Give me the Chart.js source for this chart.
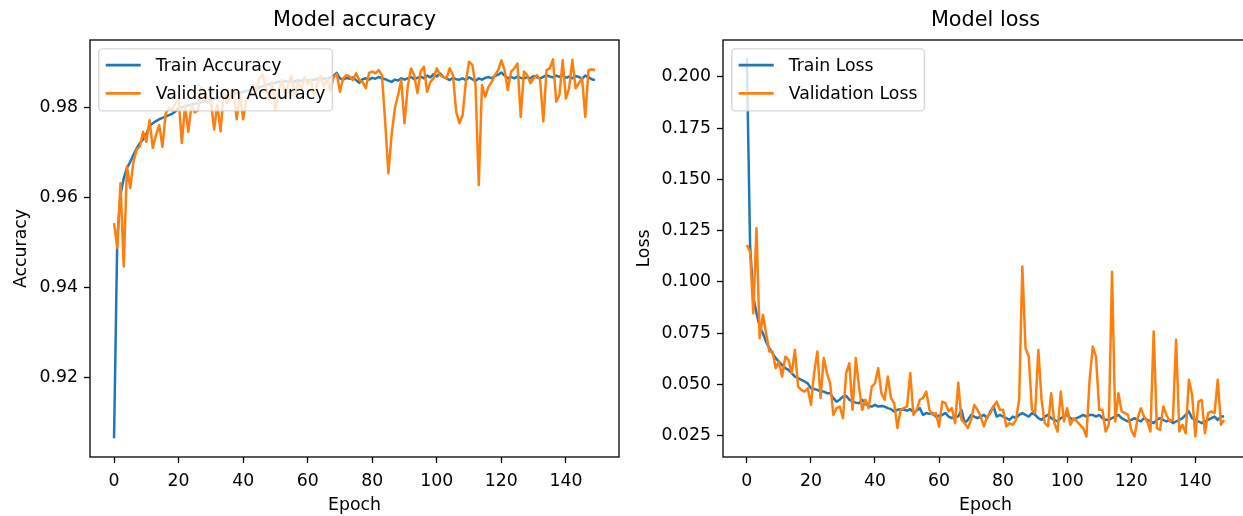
<!DOCTYPE html>
<html><head><meta charset="utf-8">
<script src="https://cdn.jsdelivr.net/npm/chart.js@4.4.0/dist/chart.umd.min.js"></script>
<style>
html,body{margin:0;padding:0;background:#fff;overflow:hidden;width:1243px;height:516px;}
#wrap{position:relative;width:1243px;height:516px;overflow:hidden;background:#fff;}
#c1{position:absolute;left:0;top:0;}
#c2{position:absolute;left:630px;top:0;}
</style></head><body>
<div id="wrap"><canvas id="c1" width="628" height="516"></canvas><canvas id="c2" width="640" height="516"></canvas></div>
<script>
// ---- data ----
const trainAcc = [0.9066,0.9510,0.9607,0.9644,0.9667,0.9680,0.9696,0.9710,0.9722,0.9730,
 0.9742,0.9760,0.9766,0.9771,0.9775,0.9778,0.9781,0.9784,0.9787,0.9792,
 0.9800,0.9801,0.9804,0.9806,0.9808,0.9809,0.9812,0.9813,0.9815,0.9817,
 0.9819,0.9820,0.9823,0.9824,0.9826,0.9828,0.9829,0.9831,0.9833,0.9834,
 0.9836,0.9837,0.9840,0.9842,0.9843,0.9846,0.9848,0.9850,0.9853,0.9855,
 0.9856,0.9859,0.9857,0.9860,0.9858,0.9861,0.9859,0.9862,0.9860,0.9864,
 0.9861,0.9863,0.9862,0.9865,0.9862,0.9866,0.9864,0.9868,0.9872,0.9878,
 0.9866,0.9863,0.9867,0.9865,0.9868,0.9862,0.9856,0.9864,0.9866,0.9863,
 0.9867,0.9865,0.9869,0.9866,0.9864,0.9861,0.9858,0.9863,0.9861,0.9866,
 0.9863,0.9866,0.9869,0.9864,0.9867,0.9870,0.9866,0.9872,0.9868,0.9875,
 0.9870,0.9877,0.9869,0.9866,0.9862,0.9867,0.9864,0.9863,0.9866,0.9862,
 0.9868,0.9864,0.9860,0.9866,0.9863,0.9867,0.9869,0.9866,0.9871,0.9874,
 0.9879,0.9872,0.9866,0.9869,0.9866,0.9870,0.9867,0.9865,0.9869,0.9866,
 0.9871,0.9868,0.9866,0.9869,0.9873,0.9870,0.9868,0.9872,0.9869,0.9873,
 0.9867,0.9870,0.9866,0.9871,0.9869,0.9865,0.9872,0.9868,0.9864,0.9862];

const valAcc = [0.9544,0.9489,0.9633,0.9448,0.9670,0.9622,0.9680,0.9707,0.9715,0.9747,
 0.9725,0.9773,0.9711,0.9740,0.9762,0.9714,0.9788,0.9800,0.9795,0.9810,
 0.9822,0.9722,0.9805,0.9747,0.9807,0.9790,0.9795,0.9845,0.9838,0.9812,
 0.9815,0.9752,0.9808,0.9748,0.9835,0.9810,0.9825,0.9842,0.9775,0.9830,
 0.9775,0.9818,0.9828,0.9852,0.9838,0.9865,0.9875,0.9845,0.9818,0.9858,
 0.9796,0.9838,0.9862,0.9832,0.9855,0.9872,0.9826,0.9858,0.9842,0.9868,
 0.9852,0.9862,0.9828,0.9856,0.9872,0.9848,0.9865,0.9838,0.9868,0.9876,
 0.9836,0.9866,0.9873,0.9870,0.9862,0.9877,0.9862,0.9858,0.9844,0.9878,
 0.9881,0.9877,0.9884,0.9873,0.9770,0.9655,0.9740,0.9800,0.9829,0.9862,
 0.9766,0.9848,0.9888,0.9873,0.9833,0.9881,0.9892,0.9836,0.9858,0.9866,
 0.9888,0.9873,0.9869,0.9866,0.9888,0.9873,0.9792,0.9766,0.9784,0.9858,
 0.9903,0.9896,0.9851,0.9629,0.9851,0.9825,0.9847,0.9858,0.9873,0.9884,
 0.9906,0.9884,0.9840,0.9881,0.9888,0.9899,0.9780,0.9881,0.9873,0.9855,
 0.9866,0.9873,0.9862,0.9770,0.9884,0.9888,0.9908,0.9814,0.9829,0.9906,
 0.9821,0.9844,0.9907,0.9844,0.9855,0.9866,0.9780,0.9884,0.9886,0.9884];

const trainLoss = [0.2090,0.1180,0.0929,0.0848,0.0783,0.0750,0.0709,0.0677,0.0653,0.0629,
 0.0612,0.0596,0.0580,0.0572,0.0556,0.0539,0.0531,0.0523,0.0515,0.0506,
 0.0482,0.0478,0.0474,0.0466,0.0466,0.0458,0.0458,0.0434,0.0417,0.0426,
 0.0442,0.0445,0.0426,0.0417,0.0412,0.0409,0.0426,0.0406,0.0396,0.0393,
 0.0401,0.0393,0.0396,0.0393,0.0385,0.0380,0.0369,0.0377,0.0380,0.0377,
 0.0373,0.0380,0.0364,0.0373,0.0385,0.0352,0.0361,0.0357,0.0361,0.0344,
 0.0348,0.0352,0.0361,0.0344,0.0336,0.0344,0.0344,0.0377,0.0312,0.0328,
 0.0352,0.0344,0.0336,0.0344,0.0352,0.0336,0.0369,0.0393,0.0344,0.0352,
 0.0344,0.0336,0.0328,0.0344,0.0336,0.0352,0.0361,0.0352,0.0344,0.0361,
 0.0352,0.0336,0.0328,0.0344,0.0352,0.0336,0.0328,0.0320,0.0336,0.0344,
 0.0352,0.0336,0.0328,0.0336,0.0344,0.0352,0.0344,0.0352,0.0352,0.0344,
 0.0352,0.0336,0.0328,0.0328,0.0336,0.0344,0.0352,0.0336,0.0328,0.0320,
 0.0328,0.0336,0.0328,0.0320,0.0336,0.0328,0.0320,0.0312,0.0328,0.0336,
 0.0328,0.0320,0.0328,0.0312,0.0320,0.0328,0.0336,0.0352,0.0369,0.0336,
 0.0328,0.0320,0.0312,0.0320,0.0328,0.0336,0.0344,0.0328,0.0344,0.0344];

const valLoss = [0.1180,0.1148,0.0848,0.1262,0.0726,0.0840,0.0750,0.0661,0.0661,0.0580,
 0.0612,0.0539,0.0636,0.0620,0.0556,0.0669,0.0490,0.0474,0.0466,0.0482,
 0.0401,0.0556,0.0661,0.0434,0.0629,0.0556,0.0506,0.0352,0.0385,0.0393,
 0.0336,0.0556,0.0604,0.0377,0.0629,0.0490,0.0377,0.0426,0.0385,0.0490,
 0.0506,0.0580,0.0458,0.0426,0.0539,0.0434,0.0409,0.0288,0.0377,0.0385,
 0.0393,0.0556,0.0352,0.0377,0.0426,0.0434,0.0466,0.0377,0.0352,0.0361,
 0.0295,0.0417,0.0409,0.0369,0.0385,0.0312,0.0509,0.0328,0.0312,0.0288,
 0.0328,0.0401,0.0377,0.0344,0.0296,0.0344,0.0361,0.0393,0.0417,0.0377,
 0.0377,0.0296,0.0312,0.0304,0.0328,0.0425,0.1075,0.0677,0.0636,0.0377,
 0.0361,0.0669,0.0425,0.0312,0.0296,0.0458,0.0312,0.0271,0.0466,0.0320,
 0.0385,0.0304,0.0336,0.0320,0.0304,0.0288,0.0247,0.0523,0.0685,0.0636,
 0.0377,0.0377,0.0271,0.0304,0.1050,0.0320,0.0458,0.0369,0.0361,0.0352,
 0.0279,0.0247,0.0336,0.0385,0.0344,0.0320,0.0271,0.0758,0.0288,0.0279,
 0.0393,0.0352,0.0320,0.0328,0.0718,0.0271,0.0304,0.0263,0.0523,0.0450,
 0.0247,0.0417,0.0425,0.0263,0.0361,0.0369,0.0361,0.0523,0.0304,0.0328];

const epochs = trainAcc.map((_, i) => i);
const xTickVals = [0, 20, 40, 60, 80, 100, 120, 140];
const accTickVals = [0.92, 0.94, 0.96, 0.98];
const lossTickVals = [0.025, 0.050, 0.075, 0.100, 0.125, 0.150, 0.175, 0.200];

// ---- styling ----
const FAM = '"DejaVu Sans", sans-serif';
const FS = 17.3;
const BLUE = '#1f77b4', ORANGE = '#ff7f0e';
Chart.defaults.font.family = FAM;
Chart.defaults.color = '#000';

const mplPlugin = {
  id: 'mpl',
  afterDatasetsDraw(chart) {
    const {ctx, chartArea: a} = chart;
    ctx.save();
    // spines
    ctx.strokeStyle = '#000';
    ctx.lineWidth = 1.3;
    ctx.strokeRect(a.left, a.top, a.right - a.left, a.bottom - a.top);
    // legend
    ctx.font = FS + 'px ' + FAM;
    const ds = chart.data.datasets;
    const tw = Math.max(...ds.map(d => ctx.measureText(d.label).width));
    const x0 = a.left + 8.7, y0 = a.top + 8.9;
    const w = 57 + tw + 7, h = 62, r = 3.5;
    ctx.beginPath();
    ctx.moveTo(x0 + r, y0);
    ctx.lineTo(x0 + w - r, y0); ctx.arcTo(x0 + w, y0, x0 + w, y0 + r, r);
    ctx.lineTo(x0 + w, y0 + h - r); ctx.arcTo(x0 + w, y0 + h, x0 + w - r, y0 + h, r);
    ctx.lineTo(x0 + r, y0 + h); ctx.arcTo(x0, y0 + h, x0, y0 + h - r, r);
    ctx.lineTo(x0, y0 + r); ctx.arcTo(x0, y0, x0 + r, y0, r);
    ctx.closePath();
    ctx.globalAlpha = 0.8;
    ctx.fillStyle = '#fff'; ctx.fill();
    ctx.strokeStyle = '#cccccc'; ctx.lineWidth = 1.4; ctx.stroke();
    ctx.globalAlpha = 1;
    ds.forEach((d, i) => {
      const cy = y0 + 16.2 + i * 28.3;
      ctx.strokeStyle = d.borderColor; ctx.lineWidth = 2.6; ctx.lineCap = 'butt';
      ctx.beginPath(); ctx.moveTo(x0 + 7, cy); ctx.lineTo(x0 + 42, cy); ctx.stroke();
      ctx.fillStyle = '#000'; ctx.textBaseline = 'middle'; ctx.textAlign = 'left';
      ctx.fillText(d.label, x0 + 57, cy + 1.5);
    });
    ctx.restore();
  }
};

function makeChart(id, cfg) {
  const pts = arr => arr.map((v, i) => ({x: epochs[i], y: v}));
  return new Chart(document.getElementById(id), {
    type: 'line',
    data: {
      datasets: [
        {label: cfg.names[0], data: pts(cfg.series[0]), borderColor: BLUE, borderWidth: 2.5,
         pointRadius: 0, tension: 0, fill: false, borderJoinStyle: 'round', order: 2},
        {label: cfg.names[1], data: pts(cfg.series[1]), borderColor: ORANGE, borderWidth: 2.5,
         pointRadius: 0, tension: 0, fill: false, borderJoinStyle: 'round', order: 1}
      ]
    },
    options: {
      responsive: false, animation: false, devicePixelRatio: 1,
      layout: {padding: {left: 0, right: cfg.padRight, top: 0, bottom: 0}},
      plugins: {
        legend: {display: false},
        tooltip: {enabled: false},
        title: {display: true, text: cfg.title, fullSize: false, color: '#000',
                font: {family: FAM, size: 20.8, weight: 'normal', lineHeight: 1.2},
                padding: {top: 8.5, bottom: 6.54}}
      },
      scales: {
        x: {
          type: 'linear', min: -7.45, max: 156.45,
          afterBuildTicks: ax => { ax.ticks = xTickVals.map(v => ({value: v})); },
          afterFit: ax => { ax.height = 59; },
          grid: {display: true, drawOnChartArea: false, drawTicks: true, tickLength: 6,
                 tickWidth: 1.3, tickColor: '#000'},
          border: {display: false},
          ticks: {color: '#000', font: {family: FAM, size: FS}, padding: 8, maxRotation: 0,
                  autoSkip: false, callback: v => String(v)},
          title: {display: true, text: 'Epoch', color: '#000', font: {family: FAM, size: FS, lineHeight: 1.2},
                  padding: {top: 0, bottom: 0}}
        },
        y: {
          type: 'linear', min: cfg.yMin, max: cfg.yMax,
          afterBuildTicks: ax => { ax.ticks = cfg.yTicks.map(v => ({value: v})); },
          afterFit: ax => { ax.width = cfg.yWidth; },
          grid: {display: true, drawOnChartArea: false, drawTicks: true, tickLength: 6,
                 tickWidth: 1.3, tickColor: '#000'},
          border: {display: false},
          ticks: {color: '#000', font: {family: FAM, size: FS}, padding: 6, autoSkip: false,
                  callback: v => v.toFixed(cfg.dec)},
          title: {display: true, text: cfg.yTitle, color: '#000', font: {family: FAM, size: FS, lineHeight: 1.2},
                  padding: {top: cfg.yTitlePad, bottom: 0}}
        }
      }
    },
    plugins: [mplPlugin]
  });
}

makeChart('c1', {
  names: ['Train Accuracy', 'Validation Accuracy'], series: [trainAcc, valAcc],
  title: 'Model accuracy', yTitle: 'Accuracy', yTicks: accTickVals, dec: 2,
  yMin: 0.90244, yMax: 0.99511, yWidth: 90, yTitlePad: 11.6, padRight: 9
});
makeChart('c2', {
  names: ['Train Loss', 'Validation Loss'], series: [trainLoss, valLoss],
  title: 'Model loss', yTitle: 'Loss', yTicks: lossTickVals, dec: 3,
  yMin: 0.0147, yMax: 0.2179, yWidth: 93, yTitlePad: 4, padRight: 22
});
</script>
</body></html>
